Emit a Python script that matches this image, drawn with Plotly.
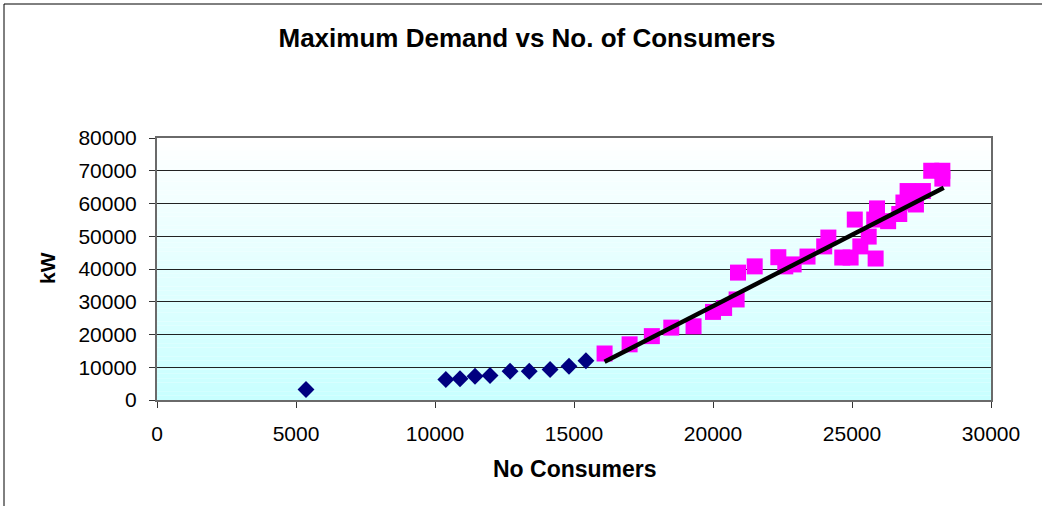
import plotly.graph_objects as go

# ---- data ----
blue_x = [5360, 10390, 10900, 11440, 11980, 12700, 13390, 14140, 14820, 15430]
blue_y = [3200, 6260, 6470, 7270, 7480, 8790, 8790, 9310, 10320, 11970]

mag_x = [16100, 17000, 17800, 18500, 19300, 20000, 20400, 20850, 20900, 21500,
         22350, 22600, 22900, 23400, 24000, 24150, 24650, 24950, 25100, 25300,
         25600, 25850, 25900, 25800, 26300, 26700, 26850, 27000, 27300, 27550,
         27850, 28250, 28250]
mag_y = [14200, 17000, 19500, 22100, 22500, 26900, 28100, 30700, 38900, 40800,
         43600, 40800, 41400, 43800, 46900, 49600, 43500, 43500, 55100, 46900,
         49900, 43200, 58500, 55100, 54600, 56800, 60300, 63800, 59700, 63800,
         70000, 70000, 67600]

trend_x = [16100, 28300]
trend_y = [11650, 64800]

title_text = "Maximum Demand vs No. of Consumers"
x_title = "No Consumers"
y_title = "kW"

FONT = "Arial, 'Liberation Sans', sans-serif"
W, H = 1042, 506
ML, MR, MT, MB = 157, 51, 138, 106
PW, PH = W - ML - MR, H - MT - MB

fig = go.Figure()
fig.add_trace(go.Scatter(x=blue_x, y=blue_y, mode="markers",
                         marker=dict(symbol="diamond", size=13, color="#000080",
                                     line=dict(width=0)),
                         showlegend=False))
fig.add_trace(go.Scatter(x=mag_x, y=mag_y, mode="markers",
                         marker=dict(symbol="square", size=16, color="#FF00FF",
                                     line=dict(width=0)),
                         showlegend=False))
fig.add_trace(go.Scatter(x=trend_x, y=trend_y, mode="lines",
                         line=dict(color="black", width=4.5),
                         showlegend=False))

# gradient background (white at top -> light cyan at bottom)
shapes = []
n = 60
top = (255, 255, 255)
bot = (200, 255, 255)
for i in range(n):
    t = (i + 0.5) / n  # 0 bottom .. 1 top
    c = tuple(round(bot[k] + (top[k] - bot[k]) * t) for k in range(3))
    shapes.append(dict(type="rect", xref="x domain", yref="y domain",
                       x0=0, x1=1, y0=i / n, y1=(i + 1) / n,
                       fillcolor="rgb(%d,%d,%d)" % c, line=dict(width=0),
                       layer="below"))
# outer chart border (left and top)
bx0 = (4 - ML) / PW
by1 = (H - MB - 4) / PH
shapes.append(dict(type="line", xref="paper", yref="paper",
                   x0=bx0, x1=bx0, y0=(H - MB - H) / PH, y1=by1,
                   line=dict(color="black", width=1)))
shapes.append(dict(type="line", xref="paper", yref="paper",
                   x0=bx0, x1=(W + 10 - ML) / PW, y0=by1, y1=by1,
                   line=dict(color="black", width=1)))

annotations = [
    dict(text=x_title, xref="paper", yref="paper",
         x=(575 - ML) / PW, y=(H - MB - 469) / PH, xanchor="center", yanchor="middle",
         showarrow=False, font=dict(family=FONT, size=23, color="black", weight="bold")),
    dict(text=y_title, xref="paper", yref="paper", textangle=-90,
         x=(47 - ML) / PW, y=(H - MB - 268) / PH, xanchor="center", yanchor="middle",
         showarrow=False, font=dict(family=FONT, size=21, color="black", weight="bold")),
]

fig.update_layout(
    width=W, height=H,
    margin=dict(l=ML, r=MR, t=MT, b=MB),
    paper_bgcolor="white", plot_bgcolor="rgba(0,0,0,0)",
    title=dict(text=title_text, xref="container", yref="container",
               x=527 / W, y=1 - 38 / H, xanchor="center", yanchor="middle",
               font=dict(family=FONT, size=26, color="black", weight="bold")),
    shapes=shapes, annotations=annotations,
    showlegend=False,
)
fig.update_xaxes(range=[0, 30000], tickvals=[0, 5000, 10000, 15000, 20000, 25000, 30000],
                 ticktext=["0", "5000", "10000", "15000", "20000", "25000", "30000"],
                 showgrid=False, zeroline=False,
                 showline=True, linecolor="#6a6a6a", linewidth=2, mirror=True,
                 ticks="outside", ticklen=6, tickcolor="#333333", tickwidth=1,
                 tickfont=dict(family=FONT, size=21, color="black"),
                 ticklabelstandoff=8)
fig.update_yaxes(range=[0, 80000], tickvals=list(range(0, 80001, 10000)),
                 ticktext=[str(v) for v in range(0, 80001, 10000)],
                 showgrid=True, gridcolor="#222222", gridwidth=1, zeroline=False,
                 showline=True, linecolor="#6a6a6a", linewidth=2, mirror=True,
                 ticks="outside", ticklen=6, tickcolor="#333333", tickwidth=1,
                 tickfont=dict(family=FONT, size=21, color="black"),
                 ticklabelstandoff=8)

fig.write_html("out.html")
